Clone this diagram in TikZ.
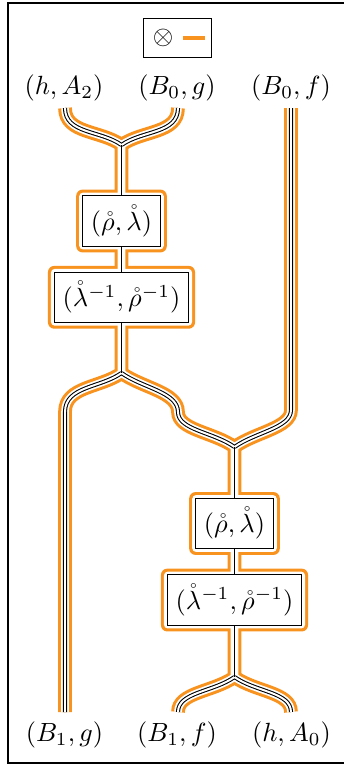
\documentclass[tikz,border=0pt]{standalone}
\usepackage{amsmath,amssymb}
\usepackage{xcolor}
\usepackage{tikz}
\usetikzlibrary{positioning,fit,backgrounds,calc}
\definecolor{wireorange}{HTML}{F7931E}

\begin{document}
\begin{tikzpicture}[
  x=0.38pt,y=-0.38pt,
  lab/.style={inner sep=0pt},
  cell/.style={draw,fill=white,line width=0.4pt,inner xsep=3.2pt,
               inner ysep=3.5pt,minimum height=18.2pt},
  ringout/.style={fill=wireorange,rounded corners=2.4pt,inner sep=2.2pt},
  ringin/.style={fill=white,rounded corners=1.4pt,inner sep=1.05pt},
  wireO/.style={draw=wireorange,line width=5.2pt},
  wireW/.style={draw=white,line width=2.9pt},
  wireK/.style={draw=black,line width=0.4pt,double=white,double distance=0.75pt},
  wireS/.style={draw=black,line width=0.45pt},
  legline/.style={draw=wireorange,line width=1.2pt}
]
\useasboundingbox (0,0) rectangle (344,766);

% frame and legend
\draw[line width=0.4pt] (8,3) rectangle (350,763);
\node[draw,line width=0.4pt,minimum width=26pt,minimum height=14.5pt] (legend) at (177.5,38) {};
\node[lab] (tensor) at (163,38) {$\otimes$};
\draw[legline] ([xshift=3.6pt]tensor.east) -- ++(22,0);

% top labels
\node[lab] (hA2) at (64,88)  {$(h,A_2)$};
\node[lab] (B0g) at (177,88) {$(B_0,g)$};
\node[lab] (B0f) at (291,88) {$(B_0,f)$};

% bottom labels
\node[lab] (B1g) at (64.5,735) {$(B_1,g)$};
\node[lab] (B1f) at (177,735)  {$(B_1,f)$};
\node[lab] (hA0) at (291.5,735) {$(h,A_0)$};

% cells
\node[cell] (rho1) at (121.5,221) {$(\mathring{\rho},\mathring{\lambda})$};
\node[cell,below=9.5pt of rho1] (lam1) {$(\mathring{\lambda}^{-1},\mathring{\rho}^{-1})$};
\node[cell] (rho2) at (234.5,523.5) {$(\mathring{\rho},\mathring{\lambda})$};
\node[cell,below=9.6pt of rho2] (lam2) {$(\mathring{\lambda}^{-1},\mathring{\rho}^{-1})$};

% wire ends, merges and splits
\coordinate (t1) at (65,108);
\coordinate (t2) at (178,108);
\coordinate (t3) at (291,108);
\coordinate (m1) at (121.5,145);
\coordinate (s1) at (121.5,373);
\coordinate (k1) at (65,412);
\coordinate (k2) at (178,412);
\coordinate (k3) at (291,410);
\coordinate (m2) at (234.5,447);
\coordinate (s2) at (234.5,677);
\coordinate (b1) at (65,712);
\coordinate (b2) at (178,712);
\coordinate (b3) at (291,712);

\begin{scope}[on background layer]
% orange outline first, then the white inside
\foreach \pass/\ring in {wireO/ringout,wireW/ringin} {
  \draw[\pass] (t1) .. controls +(0,26) and +(-21,-15) .. (m1) -- (rho1.north)
    (rho1.south) -- (lam1.north) (lam1.south) -- (s1)
    .. controls +(-21,15) and +(0,-26) .. (k1) -- (b1);
  \draw[\pass] (t2) .. controls +(0,26) and +(21,-15) .. (m1);
  \draw[\pass] (s1) .. controls +(21,15) and +(0,-20) .. (k2)
    .. controls +(0,18) and +(-21,-15) .. (m2) -- (rho2.north)
    (rho2.south) -- (lam2.north) (lam2.south) -- (s2)
    .. controls +(-21,15) and +(0,-20) .. (b2);
  \draw[\pass] (t3) -- (k3) .. controls +(0,18) and +(21,-15) .. (m2);
  \draw[\pass] (s2) .. controls +(21,15) and +(0,-20) .. (b3);
  \foreach \c in {rho1,lam1,rho2,lam2}
    \node[\ring,fit=(\c)] (\c-\ring) {};
}
% black strands
\draw[wireK] (t1) .. controls +(0,26) and +(-21,-15) .. (m1)
  (t2) .. controls +(0,26) and +(21,-15) .. (m1)
  (s1) .. controls +(-21,15) and +(0,-26) .. (k1) -- (b1)
  (s1) .. controls +(21,15) and +(0,-20) .. (k2)
       .. controls +(0,18) and +(-21,-15) .. (m2)
  (t3) -- (k3) .. controls +(0,18) and +(21,-15) .. (m2)
  (s2) .. controls +(-21,15) and +(0,-20) .. (b2)
  (s2) .. controls +(21,15) and +(0,-20) .. (b3);
\draw[wireS] (m1) -- (rho1.north) (rho1.south) -- (lam1.north) (lam1.south) -- (s1)
  (m2) -- (rho2.north) (rho2.south) -- (lam2.north) (lam2.south) -- (s2);
\end{scope}

\end{tikzpicture}
\end{document}
